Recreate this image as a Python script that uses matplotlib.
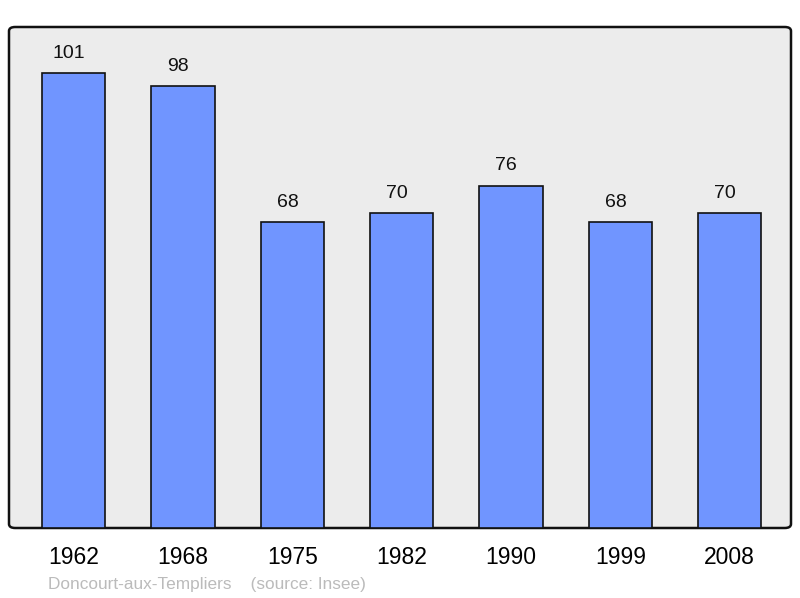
import matplotlib
matplotlib.use("Agg")
import matplotlib.pyplot as plt
from matplotlib.patches import FancyBboxPatch

years = ["1962", "1968", "1975", "1982", "1990", "1999", "2008"]
population = [101, 98, 68, 70, 76, 68, 70]

plt.rcParams['font.family'] = ['Liberation Sans', 'DejaVu Sans']

fig = plt.figure(figsize=(8.0, 5.98), dpi=100)
ax = fig.add_axes([9/800, 70/598, 782/800, 501/598])
ax.set_facecolor('none')
bg = FancyBboxPatch((0, 0), 1, 1, boxstyle="round,pad=0,rounding_size=0.008",
                    transform=ax.transAxes, facecolor='#ececec', edgecolor='#111111',
                    linewidth=1.8, zorder=0, clip_on=False)
ax.add_patch(bg)
for s in ax.spines.values():
    s.set_visible(False)

x = list(range(len(years)))
bars = ax.bar(x, population, width=0.58, color='#7095ff', edgecolor='#111111',
              linewidth=1.2, zorder=2)
for xi, v in zip(x, population):
    ax.annotate(str(v), (xi, v), xytext=(-3.5, 8), textcoords='offset points',
                ha='center', va='bottom', fontsize=14, color='#111111')

ax.set_xlim(-0.59, 6.56)
ax.set_ylim(0, 111.2)
ax.set_yticks([])
ax.set_xticks(x)
ax.set_xticklabels(years, fontsize=16.5)
ax.tick_params(axis='x', length=0, pad=13)
for lbl in ax.get_xticklabels():
    lbl.set_x(lbl.get_position()[0])

fig.text(48/800, 1 - 584/598, "Doncourt-aux-Templiers    (source: Insee)",
         fontsize=12.4, color='#bbbbbb', ha='left', va='center')

fig.savefig("out.png", dpi=100)
